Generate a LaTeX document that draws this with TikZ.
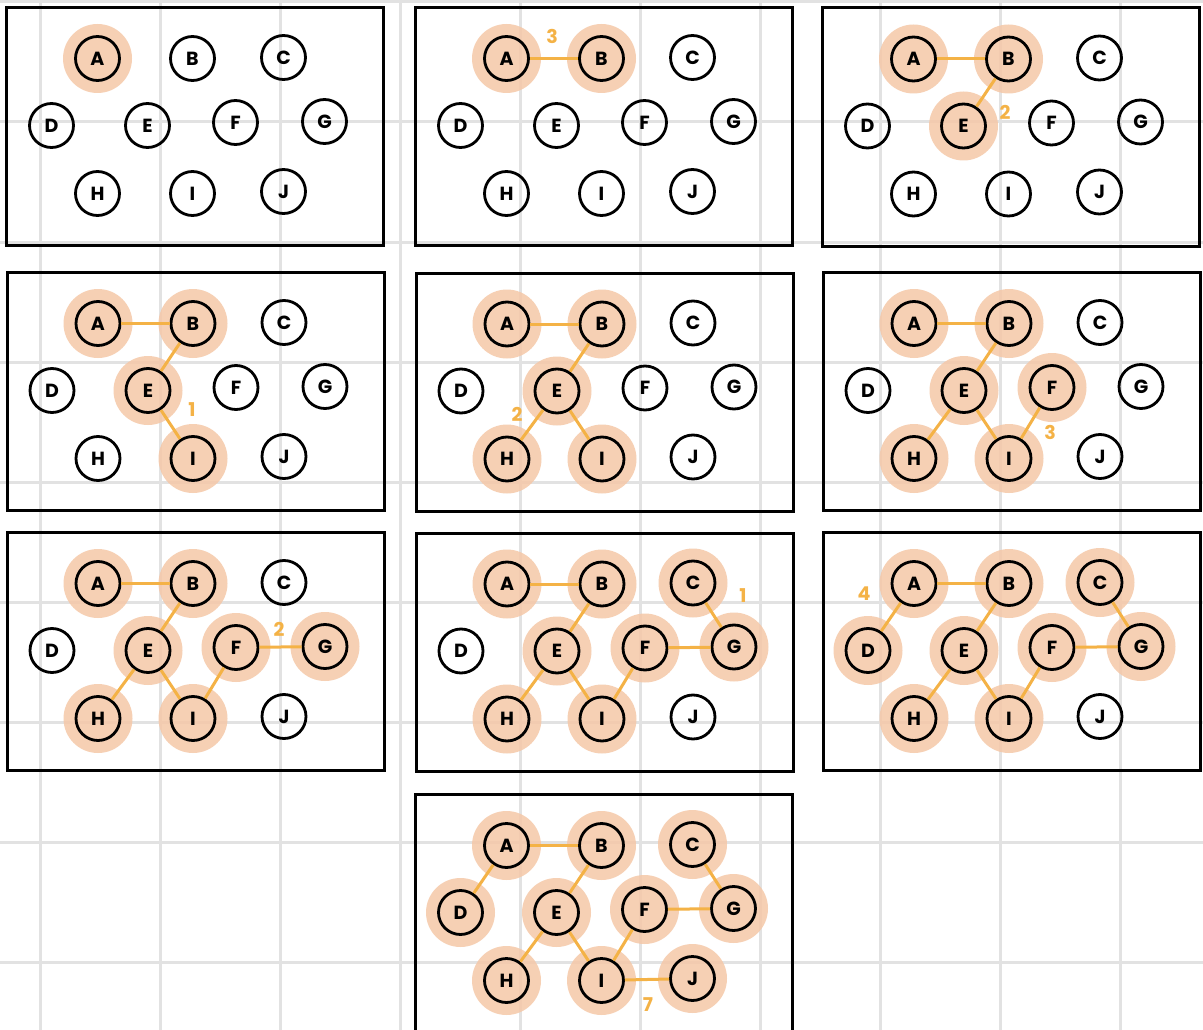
\documentclass[tikz,border=0pt]{standalone}
\usepackage{fontspec}
\newfontfamily\hand{Poppins}
\definecolor{halo}{RGB}{245,200,168}
\definecolor{edgeor}{RGB}{244,178,70}
\definecolor{gridc}{RGB}{226,226,226}
\tikzset{
  vert/.style={circle, draw=black, line width=2.8pt, minimum size=44pt, inner sep=0pt,
    font=\hand\bfseries\fontsize{19}{19}\selectfont},
  haloc/.style={fill=halo},
  mstedge/.style={draw=edgeor, line width=3pt},
  wlabel/.style={text=edgeor, inner sep=0pt, font=\hand\bfseries\fontsize{19}{19}\selectfont},
  panelbox/.style={draw=black, line width=3pt},
  gridline/.style={draw=gridc, line width=3pt},
}
\newcommand\panelbase[4]{%
  \begin{scope}[shift={(#2,#3)}]
    \draw[panelbox] (0,0) rectangle (377,238);
    \foreach \n/\px/\py in {A/91/51,B/186/51,C/277/50,D/45/118,E/141/118,F/229/115,G/318/114,H/91/186,I/186/186,J/277/184}
      \coordinate (#1c\n) at (\px,\py);
    \begin{scope}[transparency group, opacity=0.85]
      \foreach \n in {#4} \fill[haloc] (#1c\n) circle (34.5);
    \end{scope}
    \foreach \n in {A,B,C,D,E,F,G,H,I,J} \node[vert] (#1\n) at (#1c\n) {\n};
  \end{scope}}
\newcommand\paneledges[5]{%
  \foreach \a/\b in {#2} \draw[mstedge] (#1\a) -- (#1\b);
  \node[wlabel] (#1w) at (#4,#5) {#3};}
\begin{document}
\begin{tikzpicture}[x=1pt,y=-1pt]
\useasboundingbox (0,0) rectangle (1203,1030);
\clip (0,0) rectangle (1203,1030);
\fill[white] (0,0) rectangle (1203,1030);
\foreach \gx in {40,160,...,1120} \draw[gridline] (\gx,0) -- (\gx,1030);
\foreach \gy in {2,122,...,962} \draw[gridline] (0,\gy) -- (1203,\gy);
% row 1
\panelbase{p1}{6.5}{7.5}{A}
\panelbase{p2}{415.5}{7.5}{A,B}
\paneledges{p2}{A/B}{3}{552}{36}
\panelbase{p3}{822.5}{8}{A,B,E}
\paneledges{p3}{A/B,B/E}{2}{1005}{112}
% row 2
\panelbase{p4}{7}{272.5}{A,B,E,I}
\paneledges{p4}{A/B,B/E,E/I}{1}{192}{410}
\panelbase{p5}{416}{273}{A,B,E,I,H}
\paneledges{p5}{A/B,B/E,E/I,E/H}{2}{517}{414}
\panelbase{p6}{823}{272.5}{A,B,E,I,H,F}
\paneledges{p6}{A/B,B/E,E/I,E/H,F/I}{3}{1050}{432}
% row 3
\panelbase{p7}{7}{532.5}{A,B,E,I,H,F,G}
\paneledges{p7}{A/B,B/E,E/I,E/H,F/I,F/G}{2}{279}{629}
\panelbase{p8}{416}{533}{A,B,E,I,H,F,G,C}
\paneledges{p8}{A/B,B/E,E/I,E/H,F/I,F/G,C/G}{1}{743}{596}
\panelbase{p9}{823}{532.5}{A,B,E,I,H,F,G,C,D}
\paneledges{p9}{A/B,B/E,E/I,E/H,F/I,F/G,C/G,A/D}{4}{864}{594}
% row 4
\panelbase{p10}{415.5}{794.5}{A,B,E,I,H,F,G,C,D,J}
\paneledges{p10}{A/B,B/E,E/I,E/H,F/I,F/G,C/G,A/D,I/J}{7}{648}{1005}
\end{tikzpicture}
\end{document}
